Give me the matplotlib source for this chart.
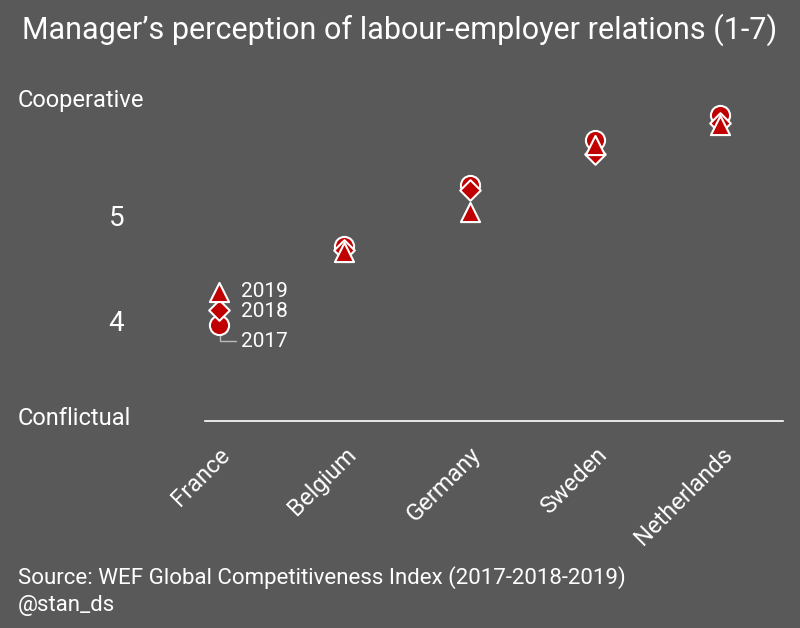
import numpy as np
import matplotlib.pyplot as plt

# data
countries = ['France', 'Belgium', 'Germany', 'Sweden', 'Netherlands']
score_2017 = [3.95, 4.71, 5.29, 5.71, 5.95]
score_2018 = [4.10, 4.67, 5.24, 5.58, 5.88]
score_2019 = [4.27, 4.65, 5.03, 5.67, 5.86]

bg = '#595959'
red = '#c00000'
plt.rcParams['font.family'] = ['Roboto', 'DejaVu Sans']

fig = plt.figure(figsize=(8, 6.28), dpi=100, facecolor=bg)
ax = fig.add_axes([0.256, 0.3296, 0.723, 0.512])
ax.set_facecolor(bg)

x = np.arange(len(countries))
ax.scatter(x, score_2017, marker='o', s=190, color=red, edgecolor='white', lw=1.5, zorder=3)
ax.scatter(x, score_2018, marker='D', s=110, color=red, edgecolor='white', lw=1.5, zorder=4)
ax.scatter(x, score_2019, marker='^', s=190, color=red, edgecolor='white', lw=1.5, zorder=5)

ax.set_xlim(-0.11, 4.5)
ax.set_ylim(3.04, 6.1)

for s in ['top', 'right', 'left']:
    ax.spines[s].set_visible(False)
ax.spines['bottom'].set_color('white')
ax.spines['bottom'].set_linewidth(1.2)

ax.set_xticks(x)
ax.set_xticklabels(countries, rotation=45, ha='right', rotation_mode='anchor',
                   fontsize=17, color='white')
ax.set_yticks([4, 5])
ax.set_yticklabels(['4', '5'], fontsize=20, color='white')
ax.tick_params(axis='x', length=0, pad=16)
ax.tick_params(axis='y', length=0, pad=58)

# year labels next to France
ax.text(0.18, score_2019[0], '2019', color='white', fontsize=15, va='center', ha='left')
ax.text(0.18, score_2018[0] - 0.02, '2018', color='white', fontsize=15, va='center', ha='left')
ax.annotate('2017', xy=(0.01, score_2017[0]), xytext=(0.18, 3.8),
            color='white', fontsize=15, va='center', ha='left',
            arrowprops=dict(arrowstyle='-', color='#bbbbbb', lw=1,
                            connectionstyle='angle,angleA=0,angleB=90,rad=0',
                            shrinkA=2, shrinkB=0), zorder=2)

fig.text(0.5, 0.952, 'Manager\u2019s perception of labour-employer relations (1-7)',
         ha='center', va='center', color='white', fontsize=22)
fig.text(0.022, 0.84, 'Cooperative', color='white', fontsize=17, va='center')
fig.text(0.022, 0.334, 'Conflictual', color='white', fontsize=17, va='center')
fig.text(0.022, 0.08, 'Source: WEF Global Competitiveness Index (2017-2018-2019)',
         color='white', fontsize=16, va='center')
fig.text(0.022, 0.036, '@stan_ds', color='white', fontsize=16, va='center')

fig.savefig('out.png', dpi=100, facecolor=bg)
